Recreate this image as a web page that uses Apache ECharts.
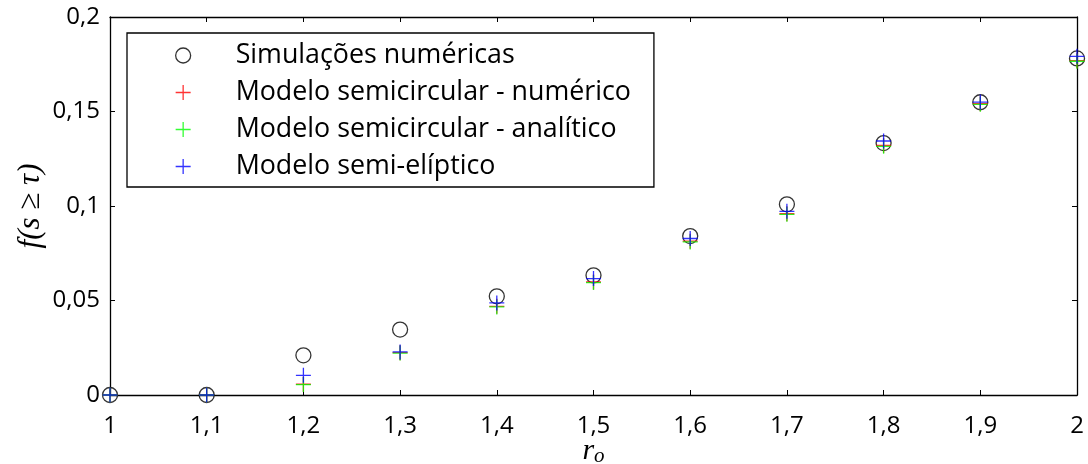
<!DOCTYPE html>
<html>
<head>
<meta charset="utf-8">
<script src="https://cdn.jsdelivr.net/npm/echarts@6/dist/echarts.min.js"></script>
<style>html,body{margin:0;padding:0;background:#fff}#c{width:1088px;height:464px}</style>
</head>
<body>
<div id="c"></div>
<script>
const xValues = [1.0, 1.1, 1.2, 1.3, 1.4, 1.5, 1.6, 1.7, 1.8, 1.9, 2.0];
const simulacoes = [0, 0, 0.021, 0.0346, 0.0522, 0.0633, 0.0841, 0.1009, 0.1333, 0.1549, 0.1781];
const semicircNumerico = [0, 0, 0.0057, 0.0224, 0.0469, 0.0598, 0.0814, 0.0959, 0.1320, 0.1541, 0.1769];
const semicircAnalitico = [0, 0, 0.0055, 0.0222, 0.0466, 0.0595, 0.0810, 0.0956, 0.1316, 0.1538, 0.1766];
const semiEliptico = [0, 0, 0.0104, 0.0228, 0.0487, 0.0616, 0.0828, 0.0972, 0.1344, 0.1550, 0.1792];
const seriesNames = ['Simulações numéricas', 'Modelo semicircular - numérico', 'Modelo semicircular - analítico', 'Modelo semi-elíptico'];
const xTickLabels = ['1', '1,1', '1,2', '1,3', '1,4', '1,5', '1,6', '1,7', '1,8', '1,9', '2'];
const yTickLabels = ['0', '0,05', '0,1', '0,15', '0,2'];

const FONT = 'Open Sans';
const cross = 'path://M0,5L10,5M5,0L5,10';
const pts = arr => xValues.map((x, i) => [x, arr[i]]);

const chart = echarts.init(document.getElementById('c'), null, {renderer: 'canvas'});
const tickCommon = {show: true, inside: true, length: 5, lineStyle: {color: '#000', width: 1}};
const lineCommon = {show: true, onZero: false, lineStyle: {color: '#000', width: 1.3}};
chart.setOption({
  animation: false,
  backgroundColor: '#fff',
  grid: {left: 110, right: 11, top: 17, bottom: 69, containLabel: false, outerBoundsMode: 'none'},
  xAxis: [{
    type: 'value', min: 1, max: 2, interval: 0.1, position: 'bottom',
    axisLine: lineCommon, axisTick: tickCommon, splitLine: {show: false},
    axisLabel: {color: '#000', fontFamily: FONT, fontSize: 24, margin: 19,
      formatter: (v, i) => xTickLabels[i]},
    name: '{r|r}{o|o}', nameLocation: 'middle', nameGap: 41, nameMoveOverlap: false,
    nameTextStyle: {rich: {
      r: {fontFamily: 'Liberation Serif', fontStyle: 'italic', fontSize: 30, color: '#000'},
      o: {fontFamily: 'Liberation Serif', fontStyle: 'italic', fontSize: 21, color: '#000', padding: [10, 0, 0, 0], verticalAlign: 'bottom'}
    }}
  }, {
    type: 'value', min: 1, max: 2, interval: 0.1, position: 'top',
    axisLine: lineCommon, axisTick: tickCommon, axisLabel: {show: false}, splitLine: {show: false}
  }],
  yAxis: [{
    type: 'value', min: 0, max: 0.2, interval: 0.05, position: 'left',
    axisLine: lineCommon, axisTick: tickCommon, splitLine: {show: false},
    axisLabel: {color: '#000', fontFamily: FONT, fontSize: 24, margin: 10,
      formatter: (v, i) => yTickLabels[i]},
    name: 'f(s ≥ τ)', nameLocation: 'middle', nameGap: 64, nameRotate: 90, nameMoveOverlap: false,
    nameTextStyle: {fontFamily: 'Liberation Serif', fontStyle: 'italic', fontSize: 31, color: '#000'}
  }, {
    type: 'value', min: 0, max: 0.2, interval: 0.05, position: 'right',
    axisLine: lineCommon, axisTick: tickCommon, axisLabel: {show: false}, splitLine: {show: false}
  }],
  legend: {
    orient: 'vertical', left: 127, top: 33,
    backgroundColor: '#fff', borderColor: '#000', borderWidth: 1.3,
    padding: [9, 23, 7, 48], itemGap: 10, itemWidth: 15, itemHeight: 15,
    textStyle: {fontFamily: FONT, fontSize: 26.8, color: '#000', padding: [0, 0, 0, 40]},
    itemStyle: {borderWidth: 1.3},
    data: seriesNames
  },
  series: [
    {name: seriesNames[0], type: 'scatter', clip: false, symbol: 'circle', symbolSize: 15, z: 2,
      itemStyle: {color: 'rgba(255,255,255,0)', borderColor: '#000', borderWidth: 1.3}, data: pts(simulacoes)},
    {name: seriesNames[1], type: 'scatter', clip: false, symbol: cross, symbolSize: 15, z: 3,
      itemStyle: {color: 'rgba(255,255,255,0)', borderColor: '#ff0000', borderWidth: 1.3}, data: pts(semicircNumerico)},
    {name: seriesNames[2], type: 'scatter', clip: false, symbol: cross, symbolSize: 15, z: 4,
      itemStyle: {color: 'rgba(255,255,255,0)', borderColor: '#00ff00', borderWidth: 1.3}, data: pts(semicircAnalitico)},
    {name: seriesNames[3], type: 'scatter', clip: false, symbol: cross, symbolSize: 15, z: 5,
      itemStyle: {color: 'rgba(255,255,255,0)', borderColor: '#0000ff', borderWidth: 1.3}, data: pts(semiEliptico)}
  ]
});
</script>
</body>
</html>
